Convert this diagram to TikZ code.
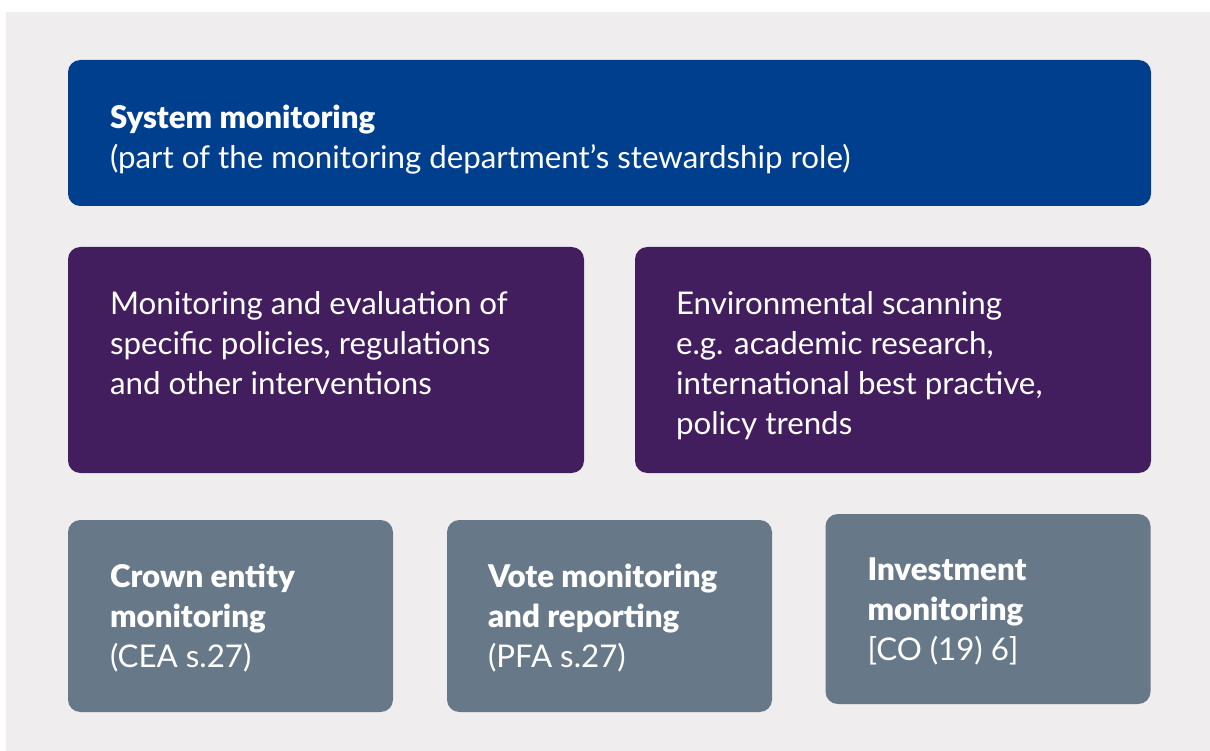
\documentclass[tikz,border=0pt]{standalone}
\usepackage{fontspec}
\setmainfont{Lato}[BoldFont={Lato Black}]
\usetikzlibrary{positioning}

\definecolor{sysblue}{RGB}{0,62,142}
\definecolor{evalpurple}{RGB}{66,30,95}
\definecolor{slate}{RGB}{103,120,137}
\definecolor{paper}{RGB}{239,237,238}

\begin{document}
\begin{tikzpicture}[
  panel/.style  = {rounded corners=7pt, inner sep=0pt},
  topbox/.style = {panel, fill=sysblue, minimum width=21.66cm, minimum height=2.92cm},
  midbox/.style = {panel, fill=evalpurple, minimum width=10.32cm, minimum height=4.52cm},
  lowbox/.style = {panel, fill=slate, minimum width=6.5cm, minimum height=3.84cm},
  txt/.style    = {text=white, align=left, inner sep=0pt,
                   font=\fontsize{17.8}{22.8}\selectfont},
]

% ---- canvas -----------------------------------------------------------------
\useasboundingbox (0,0) rectangle (24.2,-15.02);
\fill[paper] (0.12,-0.24) rectangle (24.2,-15.02);

% ---- system monitoring ------------------------------------------------------
\node[topbox] (sys) at (12.19,-2.66) {};
\node[txt, below right=0.9cm and 0.84cm of sys.north west]
  {\textbf{System monitoring}\\(part of the monitoring department’s stewardship role)};

% ---- middle row -------------------------------------------------------------
\node[midbox] (eval) at ( 6.52,-7.2) {};
\node[midbox] (scan) at (17.86,-7.2) {};
\node[txt, below right=0.88cm and 0.84cm of eval.north west]
  {Monitoring and evaluation of\\specific policies, regulations\\and other interventions};
\node[txt, below right=0.88cm and 0.82cm of scan.north west]
  {Environmental scanning\\e.g. academic research,\\international best practive,\\policy trends};

% ---- bottom row -------------------------------------------------------------
\node[lowbox] (crown) at ( 4.61,-12.32) {};
\node[lowbox] (vote)  at (12.19,-12.32) {};
\node[lowbox, minimum height=3.8cm] (invest) at (19.76,-12.18) {};
\node[txt, below right=0.88cm and 0.84cm of crown.north west]
  {\textbf{Crown entity}\\\textbf{monitoring}\\(CEA s.27)};
\node[txt, below right=0.88cm and 0.82cm of vote.north west]
  {\textbf{Vote monitoring}\\\textbf{and reporting}\\(PFA s.27)};
\node[txt, below right=0.88cm and 0.84cm of invest.north west]
  {\textbf{Investment}\\\textbf{monitoring}\\{[}CO (19) 6{]}};

\end{tikzpicture}
\end{document}
